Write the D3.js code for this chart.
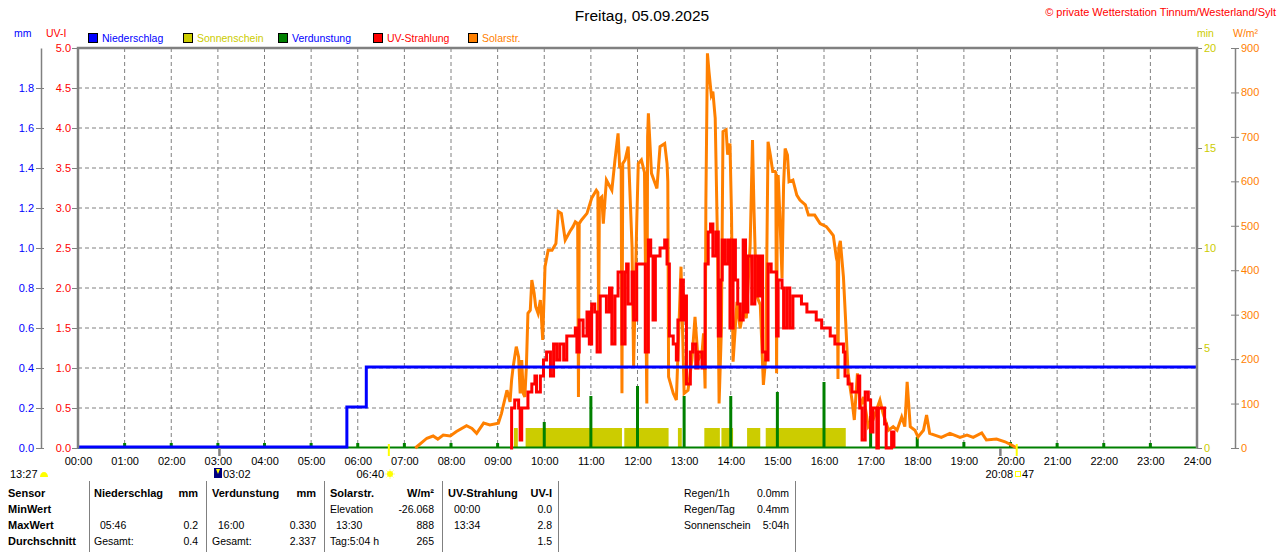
<!DOCTYPE html>
<html>
<head>
<meta charset="utf-8">
<script src="https://cdn.jsdelivr.net/npm/d3@7"></script>
<style>
  body { margin: 0; background: #fff; }
  svg { display: block; font-family: "Liberation Sans", Arial, sans-serif; }
</style>
</head>
<body>
<div class="chart"></div>
<script>
// ---- data ----
const hourLabels = ["00:00","01:00","02:00","03:00","04:00","05:00","06:00","07:00","08:00","09:00","10:00","11:00","12:00",
  "13:00","14:00","15:00","16:00","17:00","18:00","19:00","20:00","21:00","22:00","23:00","24:00"];

const mmTicks = [0, 0.2, 0.4, 0.6, 0.8, 1.0, 1.2, 1.4, 1.6, 1.8];
const uvTicks = [0, 0.5, 1, 1.5, 2, 2.5, 3, 3.5, 4, 4.5, 5];
const minTicks = [0, 5, 10, 15, 20];
const wmTicks = [0, 100, 200, 300, 400, 500, 600, 700, 800, 900];

// Niederschlag (mm, kumuliert)
const rain = [["00:00",0],["05:46",0.2],["06:11",0.4],["24:00",0.4]];

// Verdunstung je Stunde (mm)
const evapHours = ["01:00","02:00","03:00","04:00","05:00","06:00","07:00","08:00","09:00","10:00","11:00","12:00",
  "13:00","14:00","15:00","16:00","17:00","18:00","19:00","20:00","21:00","22:00","23:00"];
const evapMm = [0.025,0.025,0.025,0.025,0.025,0.025,0.025,0.025,0.025,0.13,0.26,0.31,
  0.26,0.26,0.28,0.33,0.16,0.055,0.03,0.03,0.025,0.025,0.025];

// Sonnenschein (min je min)
const sunStart = ["09:21","09:36","11:43","12:52","13:26","13:48","14:21","14:45"];
const sunEnd   = ["09:26","11:40","12:40","12:57","13:46","14:03","14:38","16:28"];

// Solarstrahlung W/m²
const solar = [["07:14",0],["07:29",22],["07:37",27],["07:43",20],["07:50",29],["07:59",27],["08:07",37],["08:20",50],
  ["08:27",44],["08:33",33],["08:42",56],["08:50",52],["09:01",56],["09:05",78],["09:07",93],["09:12",130],["09:16",104],
  ["09:18",153],["09:20",183],["09:24",228],["09:27",205],["09:29",123],["09:31",198],["09:33",123],["09:35",115],
  ["09:37",183],["09:39",303],["09:42",310],["09:44",378],["09:47",348],["09:49",318],["09:52",303],["09:55",333],
  ["09:58",243],["10:01",408],["10:05",445],["10:10",445],["10:15",460],["10:18",532],["10:22",528],["10:27",468],
  ["10:33",487],["10:37",498],["10:40",509],["10:43",505],["10:44",115],["10:45",505],["10:48",513],["10:55",528],
  ["11:01",562],["11:07",580],["11:09",575],["11:10",265],["11:11",560],["11:14",565],["11:16",505],["11:20",603],
  ["11:27",580],["11:31",648],["11:35",708],["11:37",633],["11:39",630],["11:40",123],["11:41",640],["11:44",648],
  ["11:48",678],["11:53",453],["11:55",183],["11:59",505],["12:01",640],["12:05",648],["12:09",620],["12:12",100],
  ["12:13",700],["12:14",753],["12:18",618],["12:25",584],["12:29",678],["12:35",685],["12:38",640],["12:39",600],
  ["12:40",160],["12:46",123],["12:50",108],["12:56",408],["13:00",123],["13:05",130],["13:10",198],["13:14",295],
  ["13:18",198],["13:23",213],["13:25",258],["13:27",134],["13:28",554],["13:30",888],["13:32",847],["13:35",794],
  ["13:37",802],["13:40",742],["13:43",457],["13:45",100],["13:48",269],["13:50",712],["13:54",716],["13:56",660],
  ["13:59",685],["14:01",524],["14:03",194],["14:08",329],["14:12",269],["14:16",307],["14:20",292],["14:25",457],
  ["14:28",693],["14:30",530],["14:33",344],["14:38",322],["14:42",142],["14:45",202],["14:48",689],["14:51",659],
  ["14:54",622],["14:57",622],["14:58",620],["14:59",168],["15:00",600],["15:01",614],["15:03",532],["15:06",382],
  ["15:08",592],["15:10",674],["15:13",659],["15:15",599],["15:20",603],["15:25",569],["15:29",558],["15:36",547],
  ["15:40",524],["15:48",524],["15:55",505],["16:03",498],["16:08",487],["16:12",478],["16:16",427],["16:17",420],
  ["16:18",155],["16:19",450],["16:21",466],["16:25",385],["16:28",281],["16:31",168],["16:36",108],["16:39",63],
  ["16:43",168],["16:47",93],["16:51",115],["16:57",48],["17:03",63],["17:12",108],["17:16",78],["17:23",40],
  ["17:29",48],["17:34",40],["17:40",70],["17:44",48],["17:47",149],["17:51",48],["17:57",40],["18:01",25],
  ["18:08",40],["18:12",74],["18:16",33],["18:31",24],["18:42",33],["18:55",24],["19:04",29],["19:12",24],
  ["19:23",34],["19:29",18],["19:42",20],["19:53",14],["20:01",7],["20:08",0]];

// UV-Strahlung UV-I
const uv = [["09:16",0],["09:18",0.5],["09:22",0.6],["09:27",0.5],["09:29",0.1],["09:31",0.5],["09:37",0.5],["09:39",0.7],
  ["09:44",0.8],["09:48",0.9],["09:50",0.7],["09:55",0.9],["09:59",1.1],["10:03",1.2],["10:08",0.9],["10:12",1.3],
  ["10:16",1.1],["10:20",1.3],["10:25",1.1],["10:29",1.4],["10:35",1.4],["10:40",1.5],["10:42",1.2],["10:45",1.6],
  ["10:50",1.4],["10:55",1.7],["10:58",1.3],["11:01",1.8],["11:05",1.7],["11:08",1.2],["11:12",1.9],["11:18",1.9],
  ["11:20",1.7],["11:24",2.0],["11:27",1.3],["11:31",1.9],["11:35",2.2],["11:40",1.3],["11:44",2.2],["11:46",2.3],
  ["11:48",1.8],["11:53",2.2],["11:55",1.6],["11:59",2.3],["12:05",2.3],["12:10",1.2],["12:14",2.6],["12:17",2.4],
  ["12:20",1.6],["12:23",2.4],["12:27",2.4],["12:29",2.5],["12:35",2.6],["12:38",2.3],["12:41",1.4],["12:46",1.3],
  ["12:50",1.1],["12:52",1.6],["12:56",2.1],["12:59",1.6],["13:01",1.9],["13:03",0.8],["13:08",1.2],["13:11",1.3],
  ["13:15",1.0],["13:18",1.2],["13:23",1.0],["13:27",2.3],["13:31",2.7],["13:34",2.8],["13:37",2.4],["13:41",2.7],
  ["13:44",1.4],["13:47",2.1],["13:49",2.6],["13:52",2.3],["13:56",2.6],["13:59",1.5],["14:03",2.6],["14:06",2.1],
  ["14:09",1.8],["14:12",1.6],["14:16",2.6],["14:19",1.7],["14:22",2.4],["14:27",1.8],["14:31",2.4],["14:35",1.9],
  ["14:38",2.4],["14:41",1.2],["14:45",1.1],["14:48",2.3],["14:52",2.2],["14:57",2.2],["14:59",1.4],["15:01",2.1],
  ["15:06",2.0],["15:08",1.5],["15:12",2.0],["15:16",1.5],["15:20",1.9],["15:25",1.9],["15:31",1.8],["15:38",1.7],
  ["15:46",1.7],["15:50",1.6],["15:57",1.5],["16:03",1.5],["16:08",1.4],["16:14",1.3],["16:20",1.3],["16:25",1.2],
  ["16:27",0.9],["16:31",0.8],["16:36",0.7],["16:40",0.7],["16:44",0.9],["16:46",0.5],["16:49",0.1],["16:53",0.7],
  ["16:57",0.6],["17:00",0.2],["17:03",0.5],["17:08",0],["17:10",0.5],["17:16",0.5],["17:18",0.3],["17:20",0],
  ["17:27",0.2],["17:30",0]];

// Markierungen unter der Zeitachse (Mond / Sonne)
const grayMarks = ["03:02","19:47"];
const sunMarks = ["06:40","20:08"];

// Tabelle
const tableRows = ["Sensor","MinWert","MaxWert","Durchschnitt"];
const tableCols = [
  { head: ["Niederschlag","mm"], rows: [["",""],["05:46","0.2"],["Gesamt:","0.4"]] },
  { head: ["Verdunstung","mm"], rows: [["",""],["16:00","0.330"],["Gesamt:","2.337"]] },
  { head: ["Solarstr.","W/m²"], rows: [["Elevation","-26.068"],["13:30","888"],["Tag:5:04 h","265"]] },
  { head: ["UV-Strahlung","UV-I"], rows: [["00:00","0.0"],["13:34","2.8"],["","1.5"]] }
];
const summaryLabels = ["Regen/1h","Regen/Tag","Sonnenschein"];
const summaryValues = ["0.0mm","0.4mm","5:04h"];

// ---- chart ----
const tm = s => { const p = s.split(":").map(Number); return p[0] * 60 + p[1]; };

const svg = d3.select(".chart").append("svg").attr("width", 1280).attr("height", 552);

const pLeft = 78, pRight = 1197, pTop = 48, pBottom = 448;
const GRAY = "#808080", BLUE = "#0000ff", RED = "#ff0000", ORANGE = "#ff8000", YEL = "#cccc00", GREEN = "#008000";

const x = d3.scaleLinear().domain([0, 1440]).range([pLeft, pRight]);
const yUV = d3.scaleLinear().domain([0, 5]).range([pBottom, pTop]);
const yMM = d3.scaleLinear().domain([0, 2]).range([pBottom, pTop]);
const yMin = d3.scaleLinear().domain([0, 20]).range([pBottom, pTop]);
const ySol = d3.scaleLinear().domain([0, 900]).range([pBottom, pTop]);

// grid
svg.append("g").selectAll("line").data(d3.range(1, 24)).join("line")
  .attr("x1", d => x(d * 60)).attr("x2", d => x(d * 60))
  .attr("y1", pTop).attr("y2", pBottom)
  .attr("stroke", GRAY).attr("stroke-dasharray", "4,3");
svg.append("g").selectAll("line").data(uvTicks.slice(1, -1)).join("line")
  .attr("x1", pLeft).attr("x2", pRight)
  .attr("y1", d => yUV(d)).attr("y2", d => yUV(d))
  .attr("stroke", GRAY).attr("stroke-dasharray", "4,3");

// sunshine
svg.append("g").selectAll("rect").data(sunStart).join("rect")
  .attr("x", d => x(tm(d)))
  .attr("width", (d, i) => x(tm(sunEnd[i])) - x(tm(d)))
  .attr("y", yMin(1)).attr("height", yMin(0) - yMin(1))
  .attr("fill", YEL);

// evaporation
svg.append("line").attr("x1", pLeft).attr("x2", pRight).attr("y1", yMM(0) - 0.5).attr("y2", yMM(0) - 0.5)
  .attr("stroke", GREEN).attr("stroke-width", 2);
svg.append("g").selectAll("rect").data(evapHours).join("rect")
  .attr("x", d => x(tm(d)) - 1.5).attr("width", 3)
  .attr("y", (d, i) => yMM(evapMm[i])).attr("height", (d, i) => yMM(0) - yMM(evapMm[i]))
  .attr("fill", GREEN);

// solar
svg.append("path").datum(solar)
  .attr("d", d3.line().x(d => x(tm(d[0]))).y(d => ySol(d[1])))
  .attr("fill", "none").attr("stroke", ORANGE).attr("stroke-width", 3);

// UV
svg.append("path").datum(uv)
  .attr("d", d3.line().curve(d3.curveStepAfter).x(d => x(tm(d[0]))).y(d => yUV(d[1])))
  .attr("fill", "none").attr("stroke", RED).attr("stroke-width", 3);

// rain
svg.append("path").datum(rain)
  .attr("d", d3.line().curve(d3.curveStepAfter).x(d => x(tm(d[0]))).y(d => yMM(d[1]) - 1))
  .attr("fill", "none").attr("stroke", BLUE).attr("stroke-width", 3);

// frame
svg.append("path")
  .attr("d", `M${pLeft},${pBottom}V${pTop}H${pRight}V${pBottom}`)
  .attr("fill", "none").attr("stroke", GRAY).attr("stroke-width", 2.5);

function styleAxis(g, color) {
  g.selectAll(".tick line").attr("stroke", GRAY);
  g.selectAll(".tick text").attr("fill", color).attr("font-size", 11)
    .attr("font-family", '"Liberation Sans", Arial, sans-serif');
}

// mm axis
svg.append("g").attr("transform", `translate(41,0)`)
  .call(d3.axisLeft(yMM).tickValues(mmTicks).tickSize(5).tickSizeOuter(0).tickPadding(2).tickFormat(d3.format(".1f")))
  .call(g => g.select(".domain").attr("stroke", GRAY).attr("stroke-width", 1.5))
  .call(g => g.selectAll(".tick line").attr("x2", 3).attr("x1", -5))
  .call(g => styleAxis(g, BLUE));

// UV axis
svg.append("g").attr("transform", `translate(${pLeft},0)`)
  .call(d3.axisLeft(yUV).tickValues(uvTicks).tickSize(6).tickPadding(1).tickFormat(d3.format(".1f")))
  .call(g => g.select(".domain").remove())
  .call(g => styleAxis(g, RED));

// min axis
svg.append("g").attr("transform", `translate(${pRight},0)`)
  .call(d3.axisRight(yMin).tickValues(minTicks).tickSize(5).tickPadding(2))
  .call(g => g.select(".domain").remove())
  .call(g => styleAxis(g, YEL));

// W/m² axis
svg.append("g").attr("transform", `translate(1235,0)`)
  .call(d3.axisRight(ySol).tickValues(wmTicks).tickSize(4).tickSizeOuter(0).tickPadding(2))
  .call(g => g.select(".domain").attr("stroke", GRAY).attr("stroke-width", 1.5))
  .call(g => g.selectAll(".tick line").attr("x1", -4))
  .call(g => styleAxis(g, ORANGE));

// time axis
svg.append("g").attr("transform", `translate(0,${pBottom})`)
  .call(d3.axisBottom(x).tickValues(d3.range(0, 1441, 60)).tickSize(0).tickPadding(9).tickFormat((d, i) => hourLabels[i]))
  .call(g => g.select(".domain").remove())
  .call(g => styleAxis(g, "#000"));

// markers below axis
svg.append("g").selectAll("line").data(grayMarks).join("line")
  .attr("x1", d => x(tm(d))).attr("x2", d => x(tm(d))).attr("y1", pBottom).attr("y2", 456)
  .attr("stroke", GRAY).attr("stroke-width", 2.5);
svg.append("g").selectAll("line").data(sunMarks).join("line")
  .attr("x1", d => x(tm(d))).attr("x2", d => x(tm(d))).attr("y1", 444).attr("y2", 456)
  .attr("stroke", "#ffff00").attr("stroke-width", 2);

const mark = svg.append("g").attr("font-size", 11).attr("fill", "#000");
mark.append("text").attr("x", 10).attr("y", 478).text("13:27");
mark.append("path").attr("d", "M40,477 A4,5 0 0 1 48,477 Z").attr("fill", "#ffff00");
mark.append("rect").attr("x", 214).attr("y", 468).attr("width", 8).attr("height", 10).attr("fill", "#000080");
mark.append("path").attr("d", "M216,469 L220,469 L218,474 Z").attr("fill", "#ffff00");
mark.append("text").attr("x", 223).attr("y", 478).text("03:02");
mark.append("text").attr("x", 384).attr("y", 478).attr("text-anchor", "end").text("06:40");
mark.append("g").selectAll("line").data(d3.range(8)).join("line")
  .attr("x1", 390).attr("y1", 474)
  .attr("x2", d => 390 + 5 * Math.cos(d * Math.PI / 4)).attr("y2", d => 474 + 5 * Math.sin(d * Math.PI / 4))
  .attr("stroke", "#ffff80").attr("stroke-width", 1);
mark.append("circle").attr("cx", 390).attr("cy", 474).attr("r", 3).attr("fill", "#ffff00");
mark.append("text").attr("x", 1013).attr("y", 478).attr("text-anchor", "end").text("20:08");
mark.append("rect").attr("x", 1015.5).attr("y", 471.5).attr("width", 5).attr("height", 5)
  .attr("fill", "none").attr("stroke", "#ffff00");
mark.append("text").attr("x", 1022).attr("y", 478).text("47");

// title & header texts
svg.append("text").attr("x", 642).attr("y", 21).attr("text-anchor", "middle").attr("font-size", 15.5).text("Freitag, 05.09.2025");
svg.append("text").attr("x", 1276).attr("y", 16).attr("text-anchor", "end").attr("font-size", 11).attr("fill", RED)
  .text("© private Wetterstation Tinnum/Westerland/Sylt");
svg.append("text").attr("x", 14).attr("y", 37).attr("font-size", 10.5).attr("fill", BLUE).text("mm");
svg.append("text").attr("x", 46).attr("y", 37).attr("font-size", 10.5).attr("fill", RED).text("UV-I");
svg.append("text").attr("x", 1197).attr("y", 37).attr("font-size", 10.5).attr("fill", YEL).text("min");
svg.append("text").attr("x", 1233).attr("y", 37).attr("font-size", 10.5).attr("fill", ORANGE).text("W/m²");

// legend
const legendNames = ["Niederschlag","Sonnenschein","Verdunstung","UV-Strahlung","Solarstr."];
const legendFill = [BLUE, YEL, GREEN, RED, ORANGE];
const legendText = [BLUE, YEL, BLUE, RED, ORANGE];
const legendX = [88, 183, 278, 373, 468];
const lg = svg.append("g").selectAll("g").data(legendNames).join("g")
  .attr("transform", (d, i) => `translate(${legendX[i]},33)`);
lg.append("rect").attr("x", 0.5).attr("y", 0.5).attr("width", 9).attr("height", 9)
  .attr("fill", (d, i) => legendFill[i]).attr("stroke", "#000");
lg.append("text").attr("x", 14).attr("y", 9).attr("font-size", 10.5)
  .attr("fill", (d, i) => legendText[i]).text(d => d);

// table
const rowY = [497, 513, 529, 545];
const colX = [94, 212, 330, 448];
const colEnd = [198, 316, 434, 552];
const sepX = [89, 206, 324, 442, 558, 795];

svg.append("g").selectAll("line").data(sepX).join("line")
  .attr("x1", d => d + 0.5).attr("x2", d => d + 0.5).attr("y1", 481).attr("y2", 552)
  .attr("stroke", GRAY);

const tb = svg.append("g").attr("font-size", 10.5).attr("fill", "#000");
tb.selectAll("text.rl").data(tableRows).join("text").attr("class", "rl")
  .attr("x", 8).attr("y", (d, i) => rowY[i]).attr("font-weight", "bold").attr("font-size", 11).text(d => d);

tableCols.forEach((c, ci) => {
  tb.append("text").attr("x", colX[ci]).attr("y", rowY[0]).attr("font-weight", "bold").attr("font-size", 11).text(c.head[0]);
  tb.append("text").attr("x", colEnd[ci]).attr("y", rowY[0]).attr("text-anchor", "end")
    .attr("font-weight", "bold").attr("font-size", 11).text(c.head[1]);
  c.rows.forEach((r, ri) => {
    const indent = /^\d\d:\d\d$/.test(r[0]) ? 6 : 0;
    tb.append("text").attr("x", colX[ci] + indent).attr("y", rowY[ri + 1]).text(r[0]);
    tb.append("text").attr("x", colEnd[ci]).attr("y", rowY[ri + 1]).attr("text-anchor", "end").text(r[1]);
  });
});

summaryLabels.forEach((s, i) => {
  tb.append("text").attr("x", 684).attr("y", rowY[i]).text(s);
  tb.append("text").attr("x", 789).attr("y", rowY[i]).attr("text-anchor", "end").text(summaryValues[i]);
});
</script>
</body>
</html>
